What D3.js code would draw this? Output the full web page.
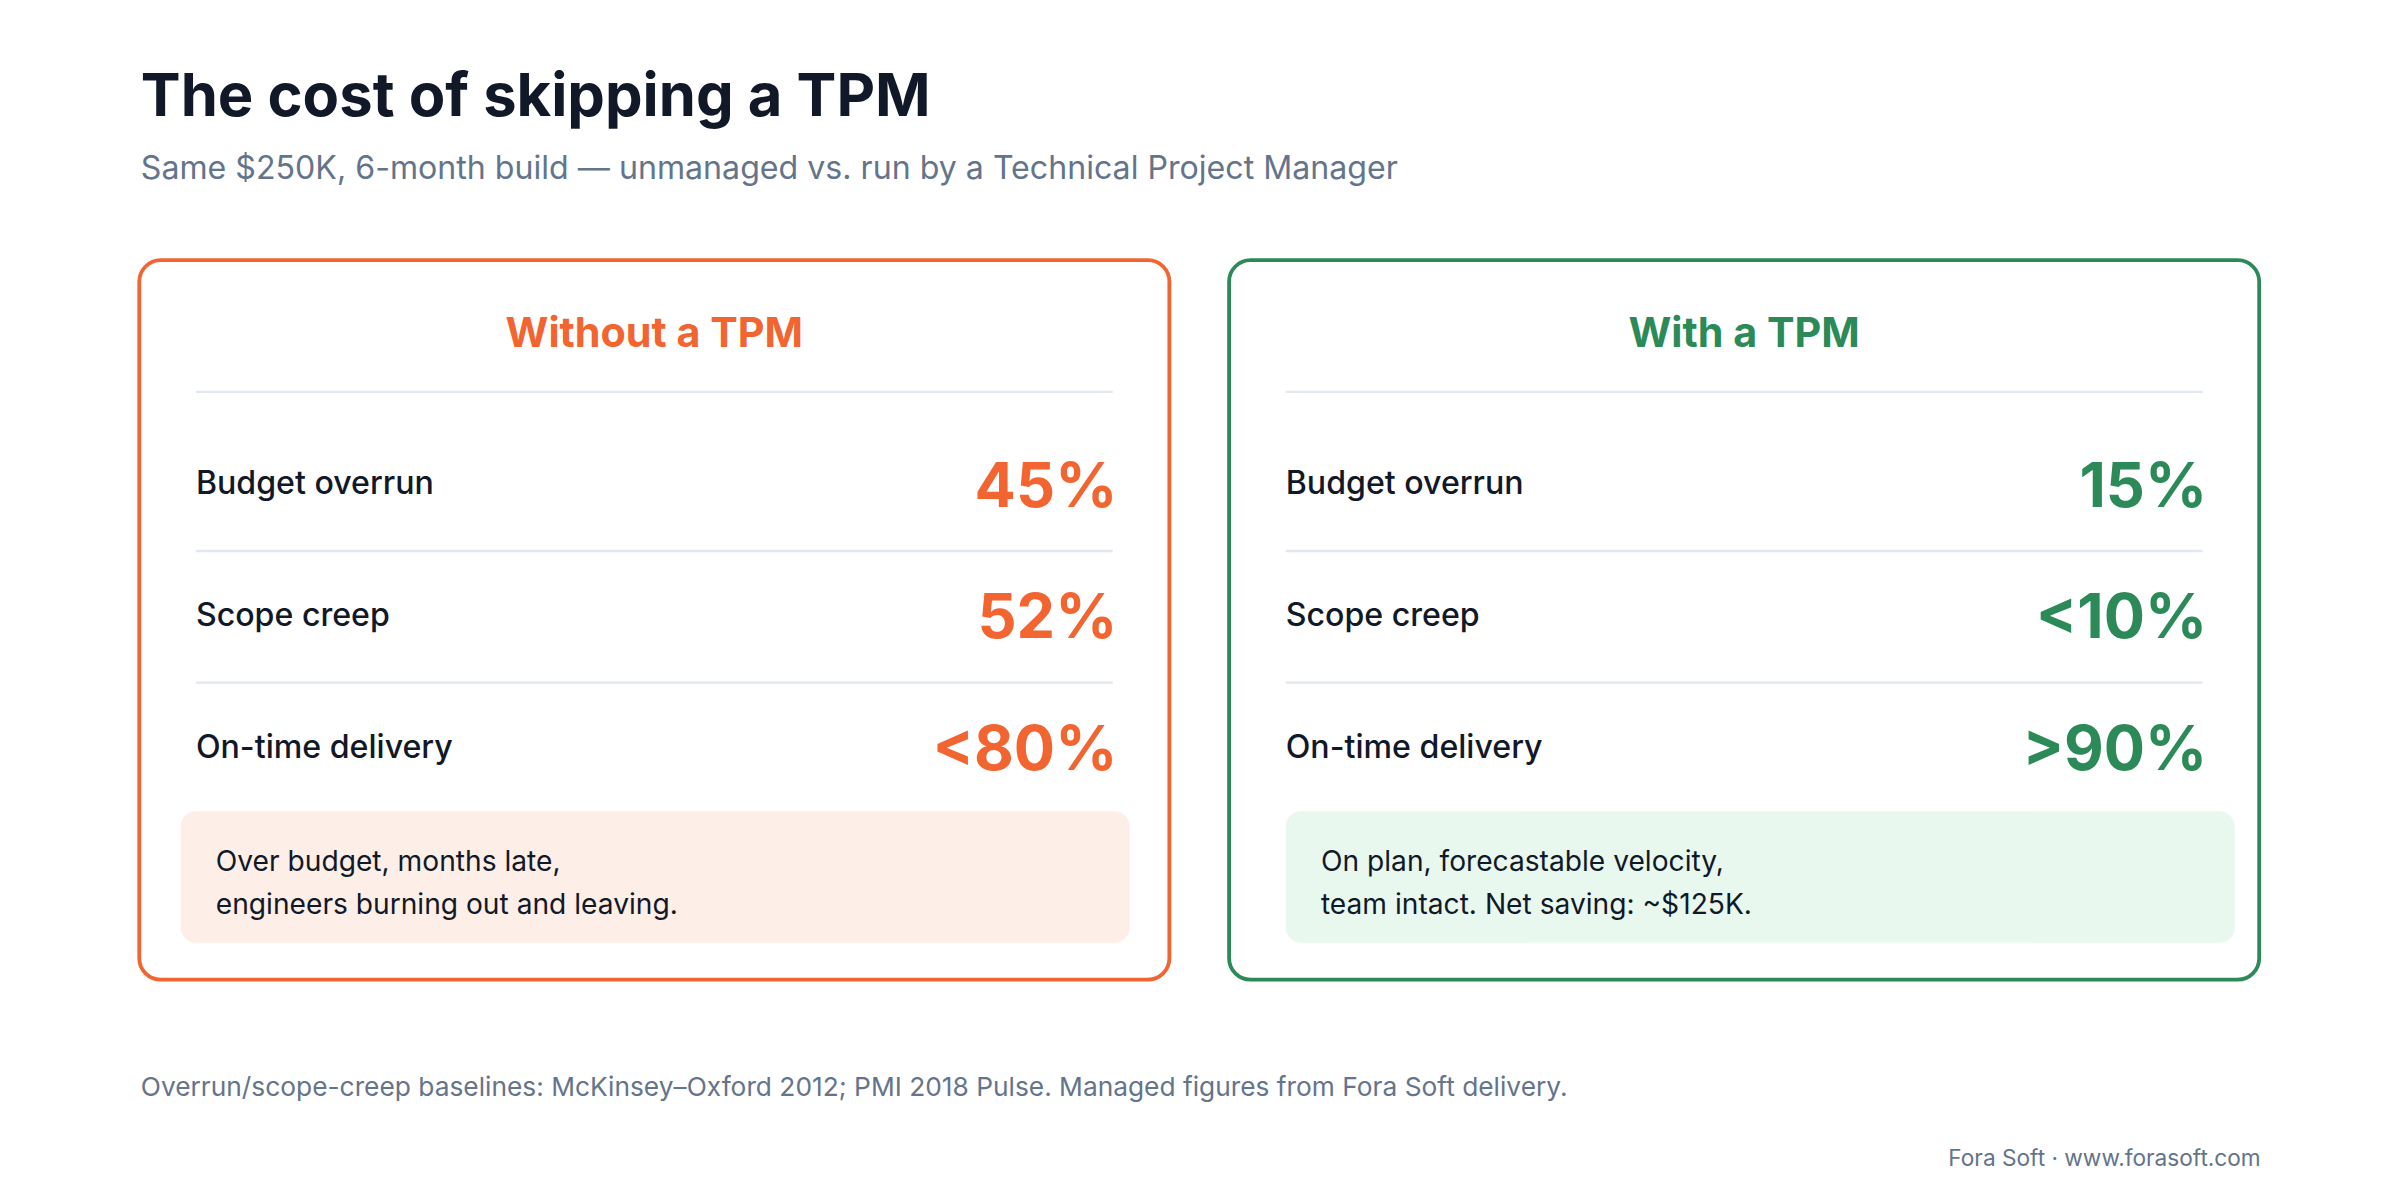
<!DOCTYPE html>
<html><head><meta charset="utf-8">
<script src="https://cdn.jsdelivr.net/npm/d3@7"></script>
<style>body{margin:0;background:#fff}svg{display:block;font-family:Inter,"Noto Sans",sans-serif}</style>
</head><body><div id="chart"></div>
<script>
const metrics = ["Budget overrun", "Scope creep", "On-time delivery"];
const cardTitles = ["Without a TPM", "With a TPM"];
const cardValues = [["45%", "52%", "<80%"], ["15%", "<10%", ">90%"]];
const cardNotes = [
  ["Over budget, months late,", "engineers burning out and leaving."],
  ["On plan, forecastable velocity,", "team intact. Net saving: ~$125K."]
];
const colors = ["#f26430", "#2b8a57"];
const noteFills = ["#fdeee8", "#e9f8ef"];

const W = 1568, H = 784;
const svg = d3.select("#chart").append("svg")
  .attr("width", 2400).attr("height", 1200)
  .attr("viewBox", `0 0 ${W} ${H}`);

svg.append("text").attr("x", 92).attr("y", 76)
  .attr("font-size", 39).attr("font-weight", 700).attr("fill", "#111827")
  .text("The cost of skipping a TPM");
svg.append("text").attr("x", 92).attr("y", 117)
  .attr("font-size", 21).attr("fill", "#64748b")
  .text("Same $250K, 6-month build — unmanaged vs. run by a Technical Project Manager");

const xCard = d3.scaleBand().domain([0, 1]).range([91, 1476]).paddingInner(0.0548);
const yRow = d3.scalePoint().domain(metrics).range([316, 488]);

const cards = svg.selectAll(".card").data(cardTitles).enter().append("g")
  .attr("class", "card")
  .attr("transform", (d, i) => `translate(${xCard(i)},0)`);
const cw = xCard.bandwidth();
const noteX = [27, 37];

cards.append("rect").attr("x", 0).attr("y", 170).attr("width", cw).attr("height", 470)
  .attr("rx", 14).attr("fill", "#fff")
  .attr("stroke", (d, i) => colors[i]).attr("stroke-width", 2.5);

cards.append("text").attr("x", cw / 2).attr("y", 227).attr("text-anchor", "middle")
  .attr("font-size", 27).attr("font-weight", 700).attr("fill", (d, i) => colors[i])
  .text(d => d);

[256, 360, 446].forEach(y => {
  cards.append("line").attr("x1", 37).attr("x2", cw - 37).attr("y1", y).attr("y2", y)
    .attr("stroke", "#e2e8f0").attr("stroke-width", 1.5);
});

cards.each(function (d, i) {
  const g = d3.select(this);
  metrics.forEach((m, j) => {
    g.append("text").attr("x", 37).attr("y", yRow(m) + 7)
      .attr("font-size", 21).attr("font-weight", 500).attr("fill", "#111827").text(m);
    g.append("text").attr("x", cw - 34).attr("y", yRow(m) + 15).attr("text-anchor", "end")
      .attr("font-size", 40).attr("font-weight", 700).attr("fill", colors[i])
      .text(cardValues[i][j]);
  });
  g.append("rect").attr("x", noteX[i]).attr("y", 530).attr("width", 620).attr("height", 86)
    .attr("rx", 10).attr("fill", noteFills[i]);
  cardNotes[i].forEach((line, k) => {
    g.append("text").attr("x", noteX[i] + 23).attr("y", 569 + k * 28)
      .attr("font-size", 18.4).attr("fill", "#111827").text(line);
  });
});

svg.append("text").attr("x", 92).attr("y", 716)
  .attr("font-size", 17.2).attr("fill", "#64748b")
  .text("Overrun/scope-creep baselines: McKinsey–Oxford 2012; PMI 2018 Pulse. Managed figures from Fora Soft delivery.");
svg.append("text").attr("x", 1477).attr("y", 762).attr("text-anchor", "end")
  .attr("font-size", 14.8).attr("fill", "#64748b")
  .text("Fora Soft · www.forasoft.com");
</script></body></html>
